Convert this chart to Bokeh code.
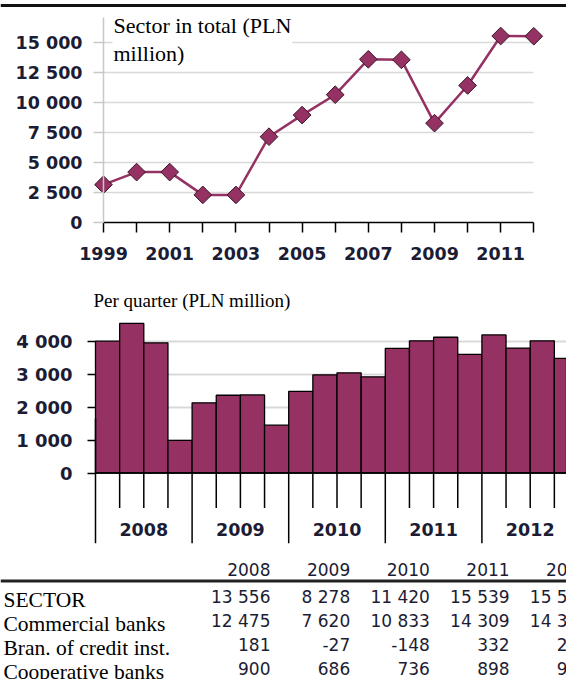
import numpy as np
from bokeh.plotting import figure
from bokeh.layouts import column
from bokeh.models import Range1d, FixedTicker, Label, Span
from bokeh.core.properties import value
from bokeh.embed import file_html
from bokeh.resources import INLINE

# ---------------- data ----------------
years = [1999, 2000, 2001, 2002, 2003, 2004, 2005, 2006, 2007, 2008, 2009, 2010, 2011, 2012]
sector_total = [3150, 4200, 4200, 2300, 2300, 7150, 8950, 10650, 13600, 13556, 8278, 11420, 15539, 15521]
total_ticks = [0, 2500, 5000, 7500, 10000, 12500, 15000]

quarter_years = ["2008", "2009", "2010", "2011", "2012"]
quarterly = [4000, 4540, 3950, 990,
             2130, 2360, 2370, 1450,
             2480, 2980, 3040, 2920,
             3780, 4010, 4120, 3600,
             4190, 3790, 4010, 3480]
quarter_ticks = [0, 1000, 2000, 3000, 4000]

table_years = ["2008", "2009", "2010", "2011", "2012"]
row_names = ["SECTOR", "Commercial banks", "Bran. of credit inst.", "Cooperative banks"]
sector_row = [13556, 8278, 11420, 15539, 15521]
commercial_row = [12475, 7620, 10833, 14309, 14337]
branches_row = [181, -27, -148, 332, 206]
cooperative_row = [900, 686, 736, 898, 977]

title_top = "Sector in total (PLN\nmillion)"
title_quarter = "Per quarter (PLN million)"

# ---------------- style ----------------
C = "#953163"
LBL = "#1c1c34"
SANS = "DejaVu Sans"
SERIF = "Liberation Serif"
W = 566


def fmt(v):
    return f"{v:,}".replace(",", " ")


# ---------------- line chart (with the page rule above it) ----------------
px_year = 33.1
px_k1 = 12.0          # px per 1000
H1 = 268
Z1 = 222              # px from figure top to the zero line
x0 = 1999 - 103 / px_year


def v1(px_from_top):
    return (Z1 - px_from_top) / px_k1 * 1000


p1 = figure(width=W, height=H1, toolbar_location=None, output_backend="svg", title=None,
            x_range=Range1d(x0, x0 + W / px_year), y_range=Range1d(v1(H1), v1(0)),
            min_border=0, outline_line_color=None)
p1.xgrid.visible = False
p1.ygrid.ticker = FixedTicker(ticks=total_ticks[1:])
p1.ygrid.grid_line_color = "#d9d9d9"
p1.ygrid.grid_line_width = 1.5
try:
    p1.ygrid.cross_bounds = (1999, 2012)
except Exception:
    pass

ya = p1.yaxis[0]
ya.fixed_location = 1999
ya.bounds = (0, v1(17))
ya.ticker = FixedTicker(ticks=total_ticks)
ya.major_label_overrides = {t: fmt(t) for t in total_ticks}
ya.axis_line_color = "#c8c8c8"
ya.axis_line_width = 1.5
ya.major_tick_line_color = "#c8c8c8"
ya.major_tick_line_width = 1.5
ya.major_tick_out = 10
ya.major_tick_in = 0
ya.minor_tick_line_color = None
ya.major_label_standoff = 11
ya.major_label_text_font = SANS
ya.major_label_text_font_style = "bold"
ya.major_label_text_font_size = "17.5px"
ya.major_label_text_color = LBL

xa = p1.xaxis[0]
xa.fixed_location = 0
xa.bounds = (1999, 2012)
xa.ticker = FixedTicker(ticks=years)
xa.major_label_overrides = {y: (str(y) if (y - years[0]) % 2 == 0 else "") for y in years}
xa.axis_line_color = "black"
xa.axis_line_width = 1.5
xa.major_tick_line_color = "black"
xa.major_tick_line_width = 1.5
xa.major_tick_out = 10
xa.major_tick_in = 0
xa.minor_tick_line_color = None
xa.major_label_standoff = 14
xa.major_label_text_font = SANS
xa.major_label_text_font_style = "bold"
xa.major_label_text_font_size = "17.5px"
xa.major_label_text_color = LBL

# rule of the page above the chart
p1.add_layout(Span(location=v1(5), dimension="width", line_color="#111111", line_width=3))

p1.line(years, sector_total, line_color=C, line_width=2.5)
p1.scatter(years, sector_total, marker="square", angle=np.pi / 4, size=12.5,
           fill_color=C, line_color="#3a1828", line_width=1)

p1.add_layout(Label(x=1999, y=v1(11), x_offset=9, text=title_top,
                    text_font=SERIF, text_font_size="22px", text_baseline="top",
                    text_line_height=1.15, text_color="black",
                    background_fill_color="white", padding=1))

# ---------------- quarterly bars ----------------
px_q = 24.15
H2 = 292
B2 = 17
F2 = H2 - B2
zero_px = 204.5            # from figure top to the zero line
px_k2 = 32.95              # px per 1000
y_top = zero_px / px_k2 * 1000
y_bot = -(F2 - zero_px) / px_k2 * 1000
qx0 = -95 / px_q
p2 = figure(width=W, height=H2, toolbar_location=None, output_backend="svg", title=None,
            x_range=Range1d(qx0, qx0 + W / px_q), y_range=Range1d(y_bot, y_top),
            min_border_left=0, min_border_right=0, min_border_top=0, min_border_bottom=B2,
            x_axis_location=None, outline_line_color=None)
p2.xgrid.visible = False
p2.ygrid.ticker = FixedTicker(ticks=quarter_ticks[1:])
p2.ygrid.grid_line_color = "#d9d9d9"
p2.ygrid.grid_line_width = 2
try:
    p2.ygrid.cross_bounds = (0, 20)
except Exception:
    pass

yb = p2.yaxis[0]
yb.fixed_location = 0
yb.bounds = (y_bot, (zero_px - 150) / px_k2 * 1000)
yb.ticker = FixedTicker(ticks=quarter_ticks)
yb.major_label_overrides = {t: fmt(t) for t in quarter_ticks}
yb.axis_line_color = "black"
yb.axis_line_width = 1.5
yb.major_tick_line_color = "black"
yb.major_tick_line_width = 1.5
yb.major_tick_out = 8
yb.major_tick_in = 0
yb.minor_tick_line_color = None
yb.major_label_standoff = 15
yb.major_label_text_font = SANS
yb.major_label_text_font_style = "bold"
yb.major_label_text_font_size = "18px"
yb.major_label_text_color = LBL

n_q = len(quarterly)
xs = [i + 0.5 for i in range(n_q)]
p2.vbar(x=xs, top=quarterly, bottom=0, width=1, fill_color=C,
        line_color="black", line_width=1.3)

short_len = 35 / px_k2 * 1000
p2.segment(x0=[0], x1=[n_q], y0=[0], y1=[0], line_color="black", line_width=1.5)
qb = [i for i in range(1, n_q + 1) if i % 4 != 0]
yrb = [i for i in range(4, n_q + 1, 4)]
p2.segment(x0=qb, x1=qb, y0=[0] * len(qb), y1=[-short_len] * len(qb),
           line_color="black", line_width=1.5)
p2.segment(x0=yrb, x1=yrb, y0=[0] * len(yrb), y1=[y_bot] * len(yrb),
           line_color="black", line_width=1.5)
centers = [4 * k + 2 for k in range(len(quarter_years))]
p2.text(x=centers, y=[-56 / px_k2 * 1000] * len(centers), text=quarter_years,
        text_align="center", text_baseline="middle", text_font=value(SANS),
        text_font_style="bold", text_font_size="17.5px", text_color=LBL)

p2.add_layout(Label(x=0, y=172.5 / px_k2 * 1000, x_offset=-2, text=title_quarter,
                    text_font=SERIF, text_font_size="19px", text_baseline="middle",
                    text_color="black"))

# ---------------- table ----------------
T0 = H1 + H2
H3 = 679 - T0
p3 = figure(width=W, height=H3, toolbar_location=None, output_backend="svg", title=None,
            x_range=Range1d(0, W), y_range=Range1d(T0 + H3, T0),
            x_axis_location=None, y_axis_location=None, min_border=0,
            outline_line_color=None)
p3.grid.visible = False

col_right = [270 + 79.7 * i for i in range(len(table_years))]
p3.text(x=col_right, y=[569] * len(col_right), text=table_years, text_align="right",
        text_baseline="middle", text_font=value(SANS), text_font_size="17px",
        text_color=LBL)
p3.add_layout(Span(location=580.5, dimension="width", line_color="#222222", line_width=3))

rows = [sector_row, commercial_row, branches_row, cooperative_row]
step = 24.0
for r, (name, vals) in enumerate(zip(row_names, rows)):
    mid = 596 + step * r
    p3.text(x=[3], y=[mid + 3.5], text=[name], text_align="left", text_baseline="middle",
            text_font=value(SERIF), text_font_size="21.5px", text_color="black")
    p3.text(x=col_right, y=[mid] * len(vals), text=[fmt(v) for v in vals],
            text_align="right", text_baseline="middle", text_font=value(SANS),
            text_font_size="17px", text_color=LBL)

layout = column(p1, p2, p3, spacing=0)
open("out.html", "w").write(file_html(layout, INLINE))
